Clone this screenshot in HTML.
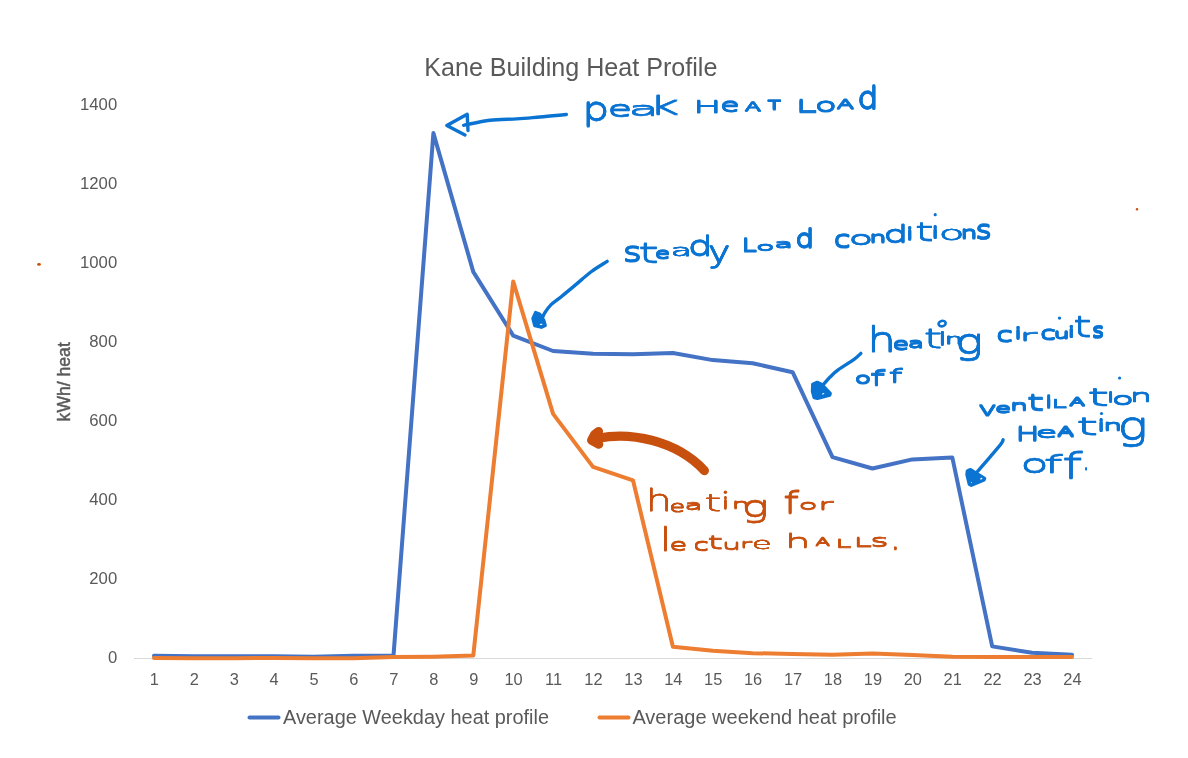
<!DOCTYPE html>
<html lang="en">
<head>
<meta charset="utf-8">
<title>Kane Building Heat Profile</title>
<style>
html,body{margin:0;padding:0;background:#fff;}
body{width:1188px;height:758px;overflow:hidden;}
svg{display:block;}
.ax{font-family:"Liberation Sans",sans-serif;fill:#595959;}
.hw{font-family:"DejaVu Sans","Liberation Sans",sans-serif;font-weight:200;stroke-linejoin:round;stroke-linecap:round;}
</style>
</head>
<body>
<svg width="1188" height="758" viewBox="0 0 1188 758">
<desc>Line chart of the Kane Building heat profile (kWh/ heat by hour 1 to 24) for the average weekday and average weekend, with handwritten notes: peak heat load; steady load conditions; heating circuits off; ventilation heating off; heating for lecture halls.</desc>
<rect width="1188" height="758" fill="#ffffff"/>
<text class="ax" x="424.2" y="75.5" font-size="26" textLength="293.2" lengthAdjust="spacingAndGlyphs">Kane Building Heat Profile</text>
<text class="ax" x="117.2" y="663.2" font-size="16.7" text-anchor="end">0</text>
<text class="ax" x="117.2" y="584.1" font-size="16.7" text-anchor="end">200</text>
<text class="ax" x="117.2" y="505.0" font-size="16.7" text-anchor="end">400</text>
<text class="ax" x="117.2" y="425.9" font-size="16.7" text-anchor="end">600</text>
<text class="ax" x="117.2" y="346.8" font-size="16.7" text-anchor="end">800</text>
<text class="ax" x="117.2" y="267.7" font-size="16.7" text-anchor="end">1000</text>
<text class="ax" x="117.2" y="188.6" font-size="16.7" text-anchor="end">1200</text>
<text class="ax" x="117.2" y="109.5" font-size="16.7" text-anchor="end">1400</text>
<text class="ax" transform="translate(69.6,421.4) rotate(-90)" font-size="17.6" stroke="#595959" stroke-width="0.45" textLength="79.2" lengthAdjust="spacingAndGlyphs">kWh/ heat</text>
<line x1="134" y1="658.5" x2="1092" y2="658.5" stroke="#d9d9d9" stroke-width="1"/>
<text class="ax" x="154.4" y="685.2" font-size="16.4" text-anchor="middle">1</text>
<text class="ax" x="194.3" y="685.2" font-size="16.4" text-anchor="middle">2</text>
<text class="ax" x="234.2" y="685.2" font-size="16.4" text-anchor="middle">3</text>
<text class="ax" x="274.1" y="685.2" font-size="16.4" text-anchor="middle">4</text>
<text class="ax" x="314.0" y="685.2" font-size="16.4" text-anchor="middle">5</text>
<text class="ax" x="353.9" y="685.2" font-size="16.4" text-anchor="middle">6</text>
<text class="ax" x="393.9" y="685.2" font-size="16.4" text-anchor="middle">7</text>
<text class="ax" x="433.8" y="685.2" font-size="16.4" text-anchor="middle">8</text>
<text class="ax" x="473.7" y="685.2" font-size="16.4" text-anchor="middle">9</text>
<text class="ax" x="513.6" y="685.2" font-size="16.4" text-anchor="middle">10</text>
<text class="ax" x="553.5" y="685.2" font-size="16.4" text-anchor="middle">11</text>
<text class="ax" x="593.4" y="685.2" font-size="16.4" text-anchor="middle">12</text>
<text class="ax" x="633.4" y="685.2" font-size="16.4" text-anchor="middle">13</text>
<text class="ax" x="673.3" y="685.2" font-size="16.4" text-anchor="middle">14</text>
<text class="ax" x="713.2" y="685.2" font-size="16.4" text-anchor="middle">15</text>
<text class="ax" x="753.1" y="685.2" font-size="16.4" text-anchor="middle">16</text>
<text class="ax" x="793.0" y="685.2" font-size="16.4" text-anchor="middle">17</text>
<text class="ax" x="832.9" y="685.2" font-size="16.4" text-anchor="middle">18</text>
<text class="ax" x="872.9" y="685.2" font-size="16.4" text-anchor="middle">19</text>
<text class="ax" x="912.8" y="685.2" font-size="16.4" text-anchor="middle">20</text>
<text class="ax" x="952.7" y="685.2" font-size="16.4" text-anchor="middle">21</text>
<text class="ax" x="992.6" y="685.2" font-size="16.4" text-anchor="middle">22</text>
<text class="ax" x="1032.5" y="685.2" font-size="16.4" text-anchor="middle">23</text>
<text class="ax" x="1072.4" y="685.2" font-size="16.4" text-anchor="middle">24</text>
<polyline fill="none" stroke="#4472c4" stroke-width="4" stroke-linejoin="round" stroke-linecap="round" points="154.0,655.7 193.9,656.3 233.8,656.3 273.7,656.3 313.6,656.7 353.5,655.7 393.5,655.5 433.4,133.1 473.3,271.9 513.2,335.6 553.1,351.0 593.0,353.8 633.0,354.2 672.9,353.0 712.8,360.1 752.7,363.3 792.6,372.2 832.5,457.2 872.5,468.5 912.4,459.4 952.3,457.4 992.2,646.4 1032.1,652.8 1072.0,654.7"/>
<polyline fill="none" stroke="#ed7d31" stroke-width="4" stroke-linejoin="round" stroke-linecap="round" points="154.0,657.9 193.9,658.3 233.8,658.3 273.7,657.9 313.6,658.3 353.5,658.3 393.5,657.1 433.4,656.7 473.3,655.5 513.2,281.4 553.1,413.9 593.0,466.9 633.0,480.3 672.9,646.8 712.8,650.8 752.7,653.2 792.6,653.9 832.5,654.7 872.5,653.6 912.4,655.1 952.3,656.7 992.2,657.1 1032.1,657.1 1072.0,657.1"/>
<line x1="249.5" y1="717.4" x2="278.5" y2="717.4" stroke="#4472c4" stroke-width="4" stroke-linecap="round"/>
<text class="ax" x="283" y="723.9" font-size="19.5" textLength="266" lengthAdjust="spacingAndGlyphs">Average Weekday heat profile</text>
<line x1="599.5" y1="717.4" x2="628.5" y2="717.4" stroke="#ed7d31" stroke-width="4" stroke-linecap="round"/>
<text class="ax" x="632.4" y="723.9" font-size="19.5" textLength="264.3" lengthAdjust="spacingAndGlyphs">Average weekend heat profile</text>
<g fill="none" stroke="#0b74d2" stroke-width="3.4" stroke-linecap="round" stroke-linejoin="round">
<path d="M566.4,114.5 C562.0,114.9 548.3,116.3 540.0,117.0 C531.7,117.7 525.1,118.4 516.8,118.9 C508.4,119.4 498.8,119.1 489.9,120.2 C481.0,121.3 468.0,124.5 463.6,125.3"/>
<path d="M465,135 L446.8,125.6 L467.2,114.3 L468,130.5"/>
<path d="M607.2,261.4 C604.6,263.1 596.6,267.7 591.5,271.5 C586.4,275.3 581.4,279.9 576.4,284.1 C571.4,288.3 565.4,293.3 561.2,296.7 C557.0,300.1 553.8,302.0 551.1,304.6 C548.4,307.2 546.8,309.7 545.2,312.2 C543.6,314.7 542.2,318.2 541.6,319.4"/>
<path fill="#0b74d2" d="M535.6,312.6 L539.5,314 L543.8,320.5 L545.2,325.5 L541.4,327.2 L534.8,325.6 L533,318.5 Z"/>
<path d="M860.8,353.4 C859.7,354.4 857.8,356.7 854.1,359.4 C850.4,362.1 842.4,366.7 838.4,369.6 C834.4,372.5 832.6,374.6 830.1,377.0 C827.6,379.4 824.7,383.1 823.6,384.3"/>
<path fill="#0b74d2" d="M812.8,384.2 L817.2,382.4 L821.4,384.2 L830.2,393.4 L829.6,395.2 L817.4,398.3 L814.2,397.6 L812.5,391.5 Z"/>
<path d="M1003.1,439.8 C1002.8,440.4 1003.4,440.7 1001.3,443.5 C999.2,446.3 994.5,451.8 990.6,456.4 C986.7,461.0 979.9,468.7 977.7,471.2"/>
<path fill="#0b74d2" d="M967.4,471 L970.5,469.6 L984.6,478.4 L984,480 L971.3,485.2 L969.3,484.2 L967,474.5 Z"/>
</g>
<g fill="none" stroke="#c8500f" stroke-linecap="round" stroke-linejoin="round">
<path stroke-width="9.2" d="M598,438.3 C630,431.8 676,440 704.4,470.6"/>
<path stroke-width="9" d="M598.6,431.4 L594.5,434.5 L591.5,440.3 L598.8,444.3"/>
</g>
<ellipse cx="39.0" cy="264.4" rx="1.9" ry="1.4" fill="#c8500f"/>
<circle cx="1137.0" cy="209.2" r="1.2" fill="#c8500f"/>
<g fill="#ffffff"><ellipse cx="541.2" cy="324.3" rx="1.5" ry="0.6" transform="rotate(-8 541.2 324.3)"/><ellipse cx="823.2" cy="393.7" rx="1.3" ry="0.6" transform="rotate(-25 823.2 393.7)"/><ellipse cx="981.3" cy="478.6" rx="1.2" ry="0.7" transform="rotate(-30 981.3 478.6)"/><circle cx="971.4" cy="482.5" r="0.5"/></g>
<circle cx="935.2" cy="214.7" r="1.6" fill="#0b74d2"/>
<circle cx="1059.5" cy="318.1" r="1.7" fill="#0b74d2"/>
<circle cx="1119.6" cy="378" r="1.6" fill="#0b74d2"/>
<circle cx="1101.5" cy="413.5" r="1.6" fill="#0b74d2"/>
<circle cx="725.4" cy="492.3" r="1.7" fill="#c8500f"/>
<ellipse cx="942.1" cy="323.6" rx="3.6" ry="2.7" fill="none" stroke="#0b74d2" stroke-width="2.6" transform="rotate(-12 942.1 323.6)"/>
<text id="w-peak" class="hw" fill="#0b74d2" stroke="#0b74d2"><tspan x="582.50" y="119.75" font-size="31.77" stroke-width="0.77" textLength="26.64" lengthAdjust="spacingAndGlyphs">p</tspan><tspan x="607.80" y="115.70" font-size="21.64" stroke-width="0.62" textLength="24.30" lengthAdjust="spacingAndGlyphs">e</tspan><tspan x="628.20" y="114.65" font-size="16.89" stroke-width="0.30" textLength="31.05" lengthAdjust="spacingAndGlyphs">a</tspan><tspan x="648.50" y="113.80" font-size="24.35" stroke-width="0.30" textLength="30.92" lengthAdjust="spacingAndGlyphs">k</tspan></text>
<use href="#w-peak" y="0.58"/><use href="#w-peak" y="1.16"/>
<text id="w-heat" class="hw" fill="#0b74d2" stroke="#0b74d2"><tspan x="693.15" y="112.45" font-size="16.40" stroke-width="0.54" textLength="28.09" lengthAdjust="spacingAndGlyphs">H</tspan><tspan x="720.25" y="110.75" font-size="18.15" stroke-width="0.86" textLength="19.28" lengthAdjust="spacingAndGlyphs">e</tspan><tspan x="745.12" y="110.50" font-size="12.02" stroke-width="0.96" textLength="15.87" lengthAdjust="spacingAndGlyphs">A</tspan><tspan x="767.90" y="108.80" font-size="12.18" stroke-width="1.17" textLength="12.57" lengthAdjust="spacingAndGlyphs">T</tspan></text>
<use href="#w-heat" y="0.48"/><use href="#w-heat" y="0.97"/>
<text id="w-load" class="hw" fill="#0b74d2" stroke="#0b74d2"><tspan x="795.42" y="111.45" font-size="15.63" stroke-width="0.48" textLength="21.40" lengthAdjust="spacingAndGlyphs">L</tspan><tspan x="815.65" y="110.95" font-size="13.30" stroke-width="0.91" textLength="20.07" lengthAdjust="spacingAndGlyphs">O</tspan><tspan x="836.92" y="108.20" font-size="11.59" stroke-width="0.85" textLength="16.79" lengthAdjust="spacingAndGlyphs">A</tspan><tspan x="857.50" y="108.00" font-size="30.14" stroke-width="1.31" textLength="20.80" lengthAdjust="spacingAndGlyphs">d</tspan></text>
<use href="#w-load" y="0.56"/><use href="#w-load" y="1.12"/>
<text id="w-steady" class="hw" fill="#0b74d2" stroke="#0b74d2"><tspan x="622.92" y="260.90" font-size="26.05" stroke-width="0.93" textLength="18.72" lengthAdjust="spacingAndGlyphs">s</tspan><tspan x="637.92" y="261.90" font-size="27.02" stroke-width="0.30" textLength="21.07" lengthAdjust="spacingAndGlyphs">t</tspan><tspan x="655.00" y="257.80" font-size="14.52" stroke-width="1.08" textLength="14.97" lengthAdjust="spacingAndGlyphs">e</tspan><tspan x="670.73" y="255.55" font-size="15.38" stroke-width="0.59" textLength="21.31" lengthAdjust="spacingAndGlyphs">a</tspan><tspan x="688.00" y="254.80" font-size="26.13" stroke-width="0.77" textLength="24.76" lengthAdjust="spacingAndGlyphs">d</tspan><tspan x="708.17" y="261.65" font-size="29.22" stroke-width="0.98" textLength="21.89" lengthAdjust="spacingAndGlyphs">y</tspan></text>
<use href="#w-steady" y="0.41"/><use href="#w-steady" y="0.82"/>
<text id="w-load2" class="hw" fill="#0b74d2" stroke="#0b74d2"><tspan x="741.70" y="250.75" font-size="17.25" stroke-width="1.11" textLength="14.79" lengthAdjust="spacingAndGlyphs">L</tspan><tspan x="755.92" y="249.85" font-size="10.19" stroke-width="0.51" textLength="18.70" lengthAdjust="spacingAndGlyphs">o</tspan><tspan x="774.40" y="247.25" font-size="10.23" stroke-width="0.51" textLength="18.81" lengthAdjust="spacingAndGlyphs">a</tspan><tspan x="795.55" y="246.75" font-size="24.66" stroke-width="1.33" textLength="18.58" lengthAdjust="spacingAndGlyphs">d</tspan></text>
<use href="#w-load2" y="0.60"/><use href="#w-load2" y="1.21"/>
<text id="w-conditions" class="hw" fill="#0b74d2" stroke="#0b74d2"><tspan x="834.10" y="246.60" font-size="23.46" stroke-width="1.23" textLength="16.34" lengthAdjust="spacingAndGlyphs">c</tspan><tspan x="848.73" y="244.30" font-size="17.21" stroke-width="0.47" textLength="24.44" lengthAdjust="spacingAndGlyphs">o</tspan><tspan x="869.45" y="241.90" font-size="13.54" stroke-width="0.87" textLength="16.82" lengthAdjust="spacingAndGlyphs">n</tspan><tspan x="883.45" y="241.85" font-size="23.49" stroke-width="0.69" textLength="24.81" lengthAdjust="spacingAndGlyphs">d</tspan><tspan x="907.25" y="238.80" font-size="15.01" stroke-width="1.70" textLength="5.10" lengthAdjust="spacingAndGlyphs">i</tspan><tspan x="914.67" y="240.25" font-size="24.35" stroke-width="0.35" textLength="19.16" lengthAdjust="spacingAndGlyphs">t</tspan><tspan x="933.20" y="237.30" font-size="13.36" stroke-width="2.12" textLength="3.96" lengthAdjust="spacingAndGlyphs">i</tspan><tspan x="938.73" y="239.50" font-size="19.17" stroke-width="0.45" textLength="25.83" lengthAdjust="spacingAndGlyphs">o</tspan><tspan x="960.75" y="237.80" font-size="15.65" stroke-width="1.04" textLength="16.49" lengthAdjust="spacingAndGlyphs">n</tspan><tspan x="975.85" y="238.10" font-size="25.42" stroke-width="1.27" textLength="15.91" lengthAdjust="spacingAndGlyphs">s</tspan></text>
<use href="#w-conditions" y="0.49"/><use href="#w-conditions" y="0.98"/>
<text id="w-heating" class="hw" fill="#0b74d2" stroke="#0b74d2"><tspan x="867.33" y="351.45" font-size="32.82" stroke-width="0.62" textLength="28.81" lengthAdjust="spacingAndGlyphs">h</tspan><tspan x="892.73" y="349.25" font-size="16.46" stroke-width="1.08" textLength="16.16" lengthAdjust="spacingAndGlyphs">e</tspan><tspan x="907.97" y="347.05" font-size="12.88" stroke-width="0.84" textLength="16.13" lengthAdjust="spacingAndGlyphs">a</tspan><tspan x="923.73" y="347.55" font-size="25.76" stroke-width="0.43" textLength="18.46" lengthAdjust="spacingAndGlyphs">t</tspan><tspan x="940.35" y="344.00" font-size="15.08" stroke-width="2.04" textLength="4.47" lengthAdjust="spacingAndGlyphs">i</tspan><tspan x="944.75" y="343.50" font-size="13.21" stroke-width="0.74" textLength="18.26" lengthAdjust="spacingAndGlyphs">n</tspan><tspan x="955.20" y="353.00" font-size="34.36" stroke-width="0.59" textLength="27.96" lengthAdjust="spacingAndGlyphs">g</tspan></text>
<use href="#w-heating" y="0.46"/><use href="#w-heating" y="0.92"/>
<text id="w-circuits" class="hw" fill="#0b74d2" stroke="#0b74d2"><tspan x="996.55" y="341.40" font-size="20.01" stroke-width="1.07" textLength="16.23" lengthAdjust="spacingAndGlyphs">c</tspan><tspan x="1015.70" y="337.75" font-size="14.40" stroke-width="1.81" textLength="4.71" lengthAdjust="spacingAndGlyphs">i</tspan><tspan x="1019.02" y="340.40" font-size="14.95" stroke-width="0.30" textLength="18.44" lengthAdjust="spacingAndGlyphs">r</tspan><tspan x="1040.42" y="338.90" font-size="18.26" stroke-width="1.10" textLength="15.13" lengthAdjust="spacingAndGlyphs">c</tspan><tspan x="1053.88" y="338.05" font-size="11.95" stroke-width="0.85" textLength="15.83" lengthAdjust="spacingAndGlyphs">u</tspan><tspan x="1069.20" y="336.55" font-size="14.07" stroke-width="2.09" textLength="4.17" lengthAdjust="spacingAndGlyphs">i</tspan><tspan x="1073.00" y="336.30" font-size="27.75" stroke-width="0.43" textLength="18.81" lengthAdjust="spacingAndGlyphs">t</tspan><tspan x="1092.42" y="336.80" font-size="19.30" stroke-width="1.73" textLength="11.24" lengthAdjust="spacingAndGlyphs">s</tspan></text>
<use href="#w-circuits" y="0.43"/><use href="#w-circuits" y="0.86"/>
<text id="w-off" class="hw" fill="#0b74d2" stroke="#0b74d2"><tspan x="854.88" y="382.70" font-size="14.12" stroke-width="0.89" textLength="16.41" lengthAdjust="spacingAndGlyphs">o</tspan><tspan x="869.55" y="384.30" font-size="20.00" stroke-width="0.39" textLength="15.79" lengthAdjust="spacingAndGlyphs">f</tspan><tspan x="888.42" y="381.70" font-size="17.84" stroke-width="0.49" textLength="14.09" lengthAdjust="spacingAndGlyphs">f</tspan></text>
<use href="#w-off" y="0.63"/><use href="#w-off" y="1.26"/>
<text id="w-ventilation" class="hw" fill="#0b74d2" stroke="#0b74d2"><tspan x="978.08" y="414.65" font-size="17.75" stroke-width="0.81" textLength="18.91" lengthAdjust="spacingAndGlyphs">v</tspan><tspan x="994.95" y="412.25" font-size="12.76" stroke-width="0.82" textLength="16.30" lengthAdjust="spacingAndGlyphs">e</tspan><tspan x="1010.08" y="409.30" font-size="11.93" stroke-width="0.68" textLength="18.09" lengthAdjust="spacingAndGlyphs">n</tspan><tspan x="1026.60" y="409.30" font-size="21.57" stroke-width="0.39" textLength="18.00" lengthAdjust="spacingAndGlyphs">t</tspan><tspan x="1046.30" y="406.40" font-size="14.56" stroke-width="1.68" textLength="5.03" lengthAdjust="spacingAndGlyphs">i</tspan><tspan x="1051.53" y="406.90" font-size="9.98" stroke-width="0.61" textLength="15.21" lengthAdjust="spacingAndGlyphs">L</tspan><tspan x="1069.45" y="405.05" font-size="9.63" stroke-width="0.80" textLength="15.51" lengthAdjust="spacingAndGlyphs">A</tspan><tspan x="1086.92" y="404.50" font-size="22.57" stroke-width="0.30" textLength="22.43" lengthAdjust="spacingAndGlyphs">t</tspan><tspan x="1109.10" y="400.30" font-size="11.11" stroke-width="2.22" textLength="3.29" lengthAdjust="spacingAndGlyphs">i</tspan><tspan x="1111.78" y="404.25" font-size="16.48" stroke-width="0.58" textLength="22.17" lengthAdjust="spacingAndGlyphs">o</tspan><tspan x="1129.70" y="400.50" font-size="16.51" stroke-width="0.62" textLength="22.25" lengthAdjust="spacingAndGlyphs">n</tspan></text>
<use href="#w-ventilation" y="0.61"/><use href="#w-ventilation" y="1.22"/>
<text id="w-heating2" class="hw" fill="#0b74d2" stroke="#0b74d2"><tspan x="1015.85" y="440.25" font-size="20.11" stroke-width="0.95" textLength="23.67" lengthAdjust="spacingAndGlyphs">H</tspan><tspan x="1035.47" y="437.05" font-size="14.87" stroke-width="0.54" textLength="21.96" lengthAdjust="spacingAndGlyphs">e</tspan><tspan x="1057.47" y="435.45" font-size="12.38" stroke-width="0.95" textLength="16.34" lengthAdjust="spacingAndGlyphs">A</tspan><tspan x="1076.12" y="434.10" font-size="22.59" stroke-width="0.30" textLength="22.44" lengthAdjust="spacingAndGlyphs">t</tspan><tspan x="1099.07" y="430.15" font-size="13.67" stroke-width="1.89" textLength="4.39" lengthAdjust="spacingAndGlyphs">i</tspan><tspan x="1103.30" y="429.85" font-size="13.22" stroke-width="0.69" textLength="18.98" lengthAdjust="spacingAndGlyphs">n</tspan><tspan x="1117.45" y="438.75" font-size="36.64" stroke-width="0.45" textLength="30.39" lengthAdjust="spacingAndGlyphs">g</tspan></text>
<use href="#w-heating2" y="0.56"/><use href="#w-heating2" y="1.13"/>
<text id="w-off2" class="hw" fill="#0b74d2" stroke="#0b74d2"><tspan x="1020.40" y="472.25" font-size="25.01" stroke-width="0.46" textLength="28.06" lengthAdjust="spacingAndGlyphs">o</tspan><tspan x="1043.53" y="472.35" font-size="22.91" stroke-width="0.30" textLength="19.18" lengthAdjust="spacingAndGlyphs">f</tspan><tspan x="1062.10" y="477.55" font-size="35.13" stroke-width="0.30" textLength="20.55" lengthAdjust="spacingAndGlyphs">f</tspan><tspan x="1082.47" y="469.45" font-size="23.04" stroke-width="0.50" textLength="7.32" lengthAdjust="spacingAndGlyphs">.</tspan></text>
<use href="#w-off2" y="0.52"/><use href="#w-off2" y="1.03"/>
<text id="w-oheating" class="hw" fill="#c8500f" stroke="#c8500f"><tspan x="645.45" y="510.70" font-size="30.73" stroke-width="0.30" textLength="26.66" lengthAdjust="spacingAndGlyphs">h</tspan><tspan x="669.52" y="511.55" font-size="15.74" stroke-width="0.66" textLength="15.52" lengthAdjust="spacingAndGlyphs">e</tspan><tspan x="684.40" y="509.35" font-size="12.20" stroke-width="0.35" textLength="18.33" lengthAdjust="spacingAndGlyphs">a</tspan><tspan x="704.23" y="510.70" font-size="23.40" stroke-width="0.30" textLength="17.16" lengthAdjust="spacingAndGlyphs">t</tspan><tspan x="723.52" y="508.00" font-size="13.43" stroke-width="1.46" textLength="3.98" lengthAdjust="spacingAndGlyphs">i</tspan><tspan x="731.88" y="508.00" font-size="11.93" stroke-width="0.39" textLength="18.02" lengthAdjust="spacingAndGlyphs">n</tspan><tspan x="741.70" y="516.25" font-size="28.44" stroke-width="0.30" textLength="27.10" lengthAdjust="spacingAndGlyphs">g</tspan></text>
<use href="#w-oheating" y="0.38"/><use href="#w-oheating" y="0.76"/>
<text id="w-ofor" class="hw" fill="#c8500f" stroke="#c8500f"><tspan x="782.95" y="512.65" font-size="29.74" stroke-width="0.30" textLength="16.17" lengthAdjust="spacingAndGlyphs">f</tspan><tspan x="798.50" y="508.60" font-size="12.81" stroke-width="0.32" textLength="19.22" lengthAdjust="spacingAndGlyphs">o</tspan><tspan x="817.80" y="509.35" font-size="14.08" stroke-width="0.30" textLength="15.69" lengthAdjust="spacingAndGlyphs">r</tspan></text>
<use href="#w-ofor" y="0.49"/><use href="#w-ofor" y="0.99"/>
<text id="w-olecture" class="hw" fill="#c8500f" stroke="#c8500f"><tspan x="659.03" y="550.45" font-size="32.11" stroke-width="0.30" textLength="13.09" lengthAdjust="spacingAndGlyphs">l</tspan><tspan x="669.53" y="549.60" font-size="15.28" stroke-width="0.48" textLength="17.74" lengthAdjust="spacingAndGlyphs">e</tspan><tspan x="693.45" y="549.60" font-size="16.17" stroke-width="0.55" textLength="15.27" lengthAdjust="spacingAndGlyphs">c</tspan><tspan x="707.33" y="548.25" font-size="17.42" stroke-width="0.30" textLength="15.94" lengthAdjust="spacingAndGlyphs">t</tspan><tspan x="722.10" y="548.75" font-size="12.16" stroke-width="0.34" textLength="19.11" lengthAdjust="spacingAndGlyphs">u</tspan><tspan x="739.88" y="547.15" font-size="10.08" stroke-width="0.30" textLength="12.43" lengthAdjust="spacingAndGlyphs">r</tspan><tspan x="751.83" y="548.50" font-size="15.33" stroke-width="0.34" textLength="20.10" lengthAdjust="spacingAndGlyphs">e</tspan></text>
<use href="#w-olecture" y="0.47"/><use href="#w-olecture" y="0.95"/>
<text id="w-ohalls" class="hw" fill="#c8500f" stroke="#c8500f"><tspan x="785.08" y="546.55" font-size="16.78" stroke-width="0.30" textLength="25.50" lengthAdjust="spacingAndGlyphs">h</tspan><tspan x="815.48" y="545.35" font-size="9.69" stroke-width="0.57" textLength="14.49" lengthAdjust="spacingAndGlyphs">A</tspan><tspan x="835.25" y="546.55" font-size="9.79" stroke-width="0.30" textLength="16.36" lengthAdjust="spacingAndGlyphs">L</tspan><tspan x="853.33" y="546.05" font-size="12.42" stroke-width="0.30" textLength="18.73" lengthAdjust="spacingAndGlyphs">L</tspan><tspan x="870.55" y="545.80" font-size="13.11" stroke-width="0.43" textLength="17.96" lengthAdjust="spacingAndGlyphs">S</tspan><tspan x="890.03" y="548.65" font-size="33.62" stroke-width="0.50" textLength="10.69" lengthAdjust="spacingAndGlyphs">.</tspan></text>
<use href="#w-ohalls" y="0.52"/><use href="#w-ohalls" y="1.04"/>
</svg>
</body>
</html>
